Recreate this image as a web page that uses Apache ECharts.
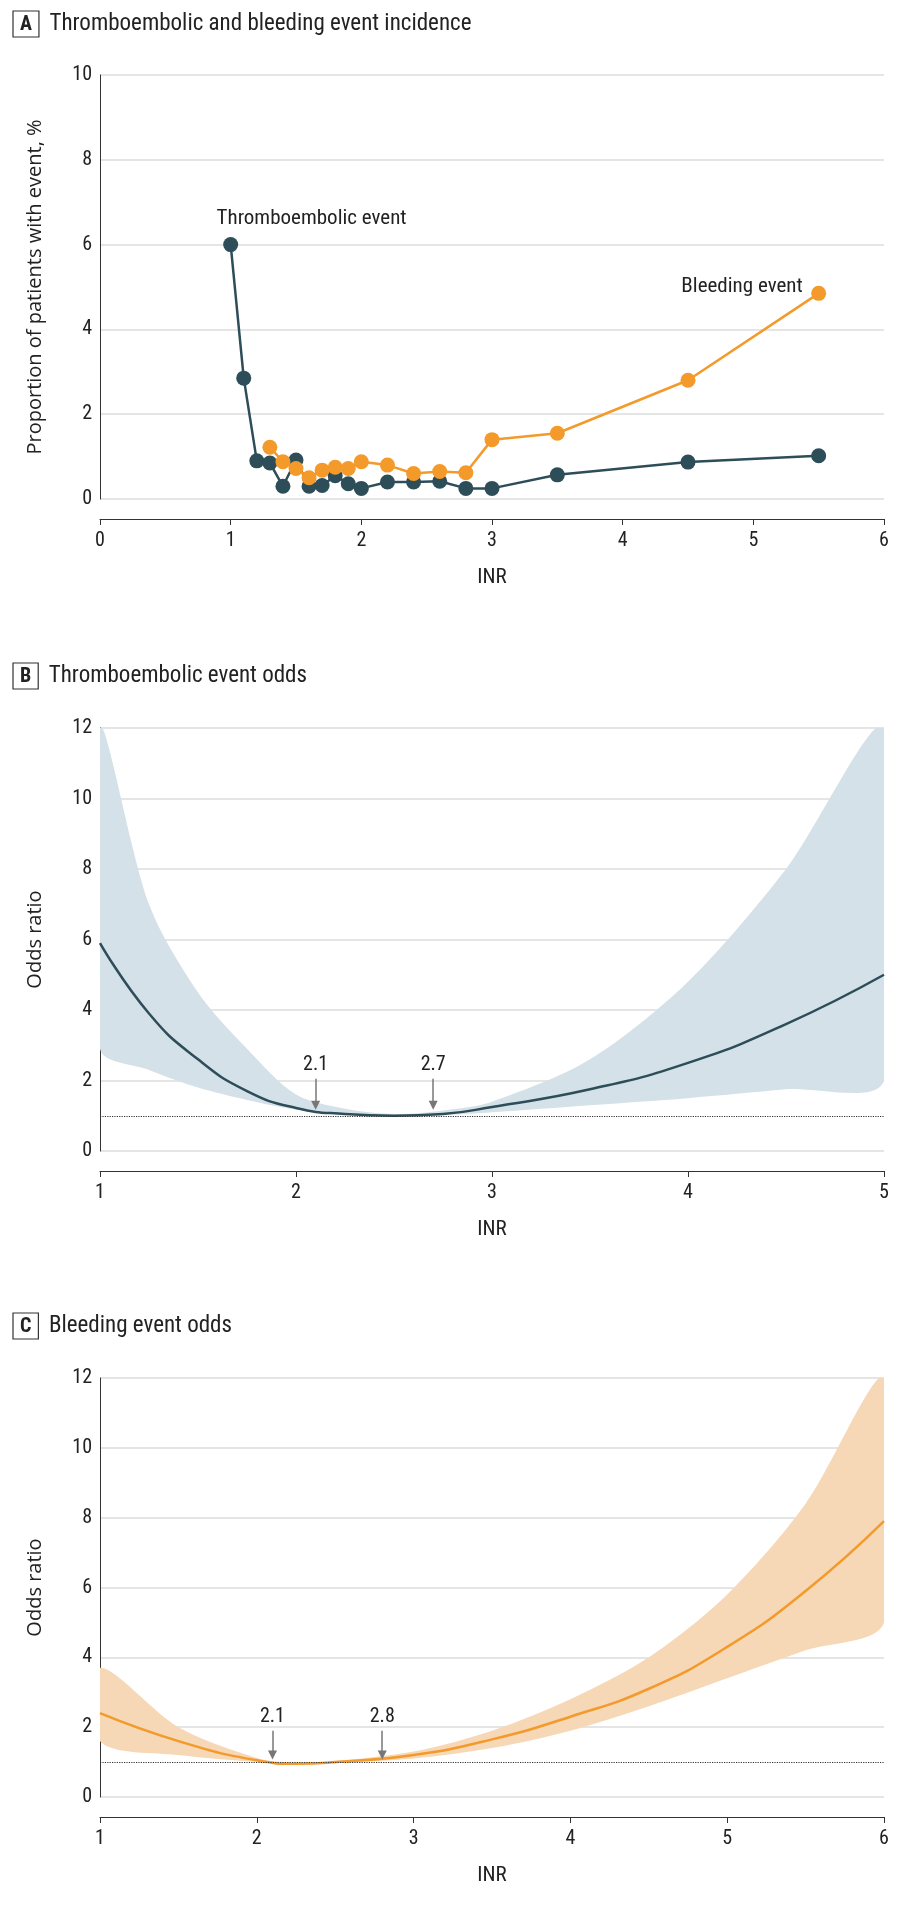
<!DOCTYPE html>
<html><head><meta charset="utf-8">
<script src="https://cdn.jsdelivr.net/npm/echarts@6/dist/echarts.min.js"></script>
<style>html,body{margin:0;padding:0;background:#fff}#c{width:898px;height:1909px}</style>
</head><body><div id="c"></div>
<script>
const FONT = '"Liberation Sans Narrow","Roboto Condensed","Liberation Sans",sans-serif';
const DARK = '#2d4d59', ORANGE = '#f39a2b';

// Panel A
const thrX = [1, 1.1, 1.2, 1.3, 1.4, 1.5, 1.6, 1.7, 1.8, 1.9, 2, 2.2, 2.4, 2.6, 2.8, 3, 3.5, 4.5, 5.5];
const thrY = [6, 2.85, 0.9, 0.85, 0.3, 0.92, 0.3, 0.32, 0.55, 0.36, 0.25, 0.4, 0.4, 0.42, 0.25, 0.25, 0.57, 0.87, 1.02];
const bleX = [1.3, 1.4, 1.5, 1.6, 1.7, 1.8, 1.9, 2, 2.2, 2.4, 2.6, 2.8, 3, 3.5, 4.5, 5.5];
const bleY = [1.22, 0.88, 0.72, 0.5, 0.68, 0.75, 0.72, 0.88, 0.8, 0.6, 0.65, 0.62, 1.4, 1.55, 2.8, 4.85];

// Panel B
const bX = [1, 1.25, 1.5, 1.75, 2, 2.25, 2.5, 2.75, 3, 3.5, 4, 4.5, 5];
const bOR = [5.9, 3.9, 2.6, 1.7, 1.22, 1.05, 1.0, 1.05, 1.25, 1.75, 2.5, 3.6, 5.0];
const bLo = [2.9, 2.3, 1.8, 1.45, 1.18, 1.05, 1.0, 1.02, 1.1, 1.3, 1.5, 1.75, 2.0];
const bHi = [12, 7.0, 4.5, 2.9, 1.6, 1.2, 1.05, 1.15, 1.4, 2.6, 4.8, 8.0, 12];

// Panel C
const cX = [1, 1.5, 2, 2.25, 2.5, 3, 3.5, 4, 4.5, 5, 5.5, 6];
const cOR = [2.4, 1.6, 1.05, 0.95, 1.0, 1.2, 1.65, 2.3, 3.1, 4.3, 5.9, 7.9];
const cLo = [1.6, 1.2, 1.0, 0.93, 0.97, 1.1, 1.4, 1.9, 2.6, 3.4, 4.2, 5.0];
const cHi = [3.7, 2.0, 1.12, 0.98, 1.03, 1.3, 1.9, 2.8, 4.0, 5.8, 8.4, 12];

const pair = (xs, ys) => xs.map((x, i) => [x, ys[i]]);
// band outline: upper edge forward, lower edge back
const band = (xs, lo, hi) => pair(xs, hi).concat(pair(xs, lo).reverse());

const grids = [
  {left: 100, right: 14, top: 75, height: 424},
  {left: 100, right: 14, top: 728, height: 423},
  {left: 100, right: 14, top: 1378, height: 419}
];
const txt = {fontFamily: FONT, color: '#222', fontSize: 19};
function xAxis(i, min, max) {
  return {gridIndex: i, type: 'value', min, max, interval: 1, offset: 20, name: 'INR', nameLocation: 'middle', nameGap: 48,
    nameTextStyle: Object.assign({}, txt, {fontSize: 21}),
    axisLine: {onZero: false, lineStyle: {color: '#333'}}, axisTick: {length: 6, lineStyle: {color: '#333'}},
    axisLabel: Object.assign({}, txt, {fontSize: 20, margin: 12}), splitLine: {show: false}};
}
function yAxis(i, max, name) {
  return {gridIndex: i, type: 'value', min: 0, max, interval: 2, name, nameLocation: 'middle', nameGap: 55,
    nameTextStyle: Object.assign({}, txt, {fontFamily: '"Open Sans",sans-serif', fontSize: 20}),
    axisLine: {show: true, lineStyle: {color: '#333'}}, axisTick: {show: false},
    axisLabel: Object.assign({}, txt, {fontSize: 20}),
    splitLine: {lineStyle: {color: '#ddd', width: 1.5}}};
}
function title(letter, text, top) {
  return {left: 8, top, text: '{b|' + letter + '}  ' + text,
    textStyle: {fontFamily: FONT, fontSize: 23, fontWeight: 'normal', color: '#222',
      rich: {b: {fontFamily: FONT, fontSize: 20, fontWeight: 'bold', color: '#222', borderColor: '#333', borderWidth: 1.2, padding: [4, 7, 2, 7]}}}};
}
function arrows(pts, y0, y1) {
  return {silent: true, symbol: ['none', 'triangle'], symbolSize: [9, 9],
    lineStyle: {type: 'solid', color: '#777', width: 1.5},
    label: {show: false},
    data: pts.map(p => [{coord: [p, y0], label: {show: true, position: 'start', formatter: p.toFixed(1), fontFamily: FONT, fontSize: 20, color: '#222', distance: 4}},
      {coord: [p, y1]}])};
}
function refLine() {
  return {silent: true, symbol: 'none', label: {show: false}, lineStyle: {type: 'dotted', color: '#333', width: 1.2}, data: [{yAxis: 1}]};
}
function bandSeries(gi, pts, color) {
  return {type: 'custom', xAxisIndex: gi, yAxisIndex: gi, data: pts, z: 1, silent: true,
    renderItem: (params, api) => {
      if (params.dataIndex !== 0) return null;
      const poly = pts.map(p => api.coord(p));
      return {type: 'polygon', shape: {points: poly, smooth: 0.3}, style: {fill: color},
        clipPath: {type: 'rect', shape: {x: params.coordSys.x, y: params.coordSys.y, width: params.coordSys.width, height: params.coordSys.height}}};
    }};
}

const option = {
  animation: false,
  title: [title('A', 'Thromboembolic and bleeding event incidence', 6),
    title('B', 'Thromboembolic event odds', 658), title('C', 'Bleeding event odds', 1308)],
  grid: grids,
  xAxis: [xAxis(0, 0, 6), xAxis(1, 1, 5), xAxis(2, 1, 6)],
  yAxis: [yAxis(0, 10, 'Proportion of patients with event, %'), yAxis(1, 12, 'Odds ratio'), yAxis(2, 12, 'Odds ratio')],
  series: [
    {type: 'line', xAxisIndex: 0, yAxisIndex: 0, data: pair(thrX, thrY), symbol: 'circle', symbolSize: 15,
      lineStyle: {color: DARK, width: 2.5}, itemStyle: {color: DARK}, z: 2,
      markPoint: {symbol: 'rect', symbolSize: 1, itemStyle: {color: 'transparent'},
        label: {show: true, formatter: 'Thromboembolic event', fontFamily: FONT, fontSize: 21, color: '#222', position: 'right'},
        data: [{coord: [0.85, 6.6]}]}},
    {type: 'line', xAxisIndex: 0, yAxisIndex: 0, data: pair(bleX, bleY), symbol: 'circle', symbolSize: 15,
      lineStyle: {color: ORANGE, width: 2.5}, itemStyle: {color: ORANGE}, z: 3,
      markPoint: {symbol: 'rect', symbolSize: 1, itemStyle: {color: 'transparent'},
        label: {show: true, formatter: 'Bleeding event', fontFamily: FONT, fontSize: 21, color: '#222', position: 'left'},
        data: [{coord: [5.42, 5.0]}]}},

    bandSeries(1, band(bX, bLo, bHi), '#d5e1e8'),
    {type: 'line', xAxisIndex: 1, yAxisIndex: 1, data: pair(bX, bOR), smooth: true, symbol: 'none',
      lineStyle: {color: DARK, width: 2.5}, z: 4, markLine: refLine()},
    {type: 'line', xAxisIndex: 1, yAxisIndex: 1, data: [], symbol: 'none', markLine: arrows([2.1, 2.7], 2.05, 1.3)},

    bandSeries(2, band(cX, cLo, cHi), '#f6d7b6'),
    {type: 'line', xAxisIndex: 2, yAxisIndex: 2, data: pair(cX, cOR), smooth: true, symbol: 'none',
      lineStyle: {color: ORANGE, width: 2.5}, z: 4, markLine: refLine()},
    {type: 'line', xAxisIndex: 2, yAxisIndex: 2, data: [], symbol: 'none', markLine: arrows([2.1, 2.8], 1.9, 1.2)}
  ]
};
echarts.init(document.getElementById('c')).setOption(option);
</script></body></html>
